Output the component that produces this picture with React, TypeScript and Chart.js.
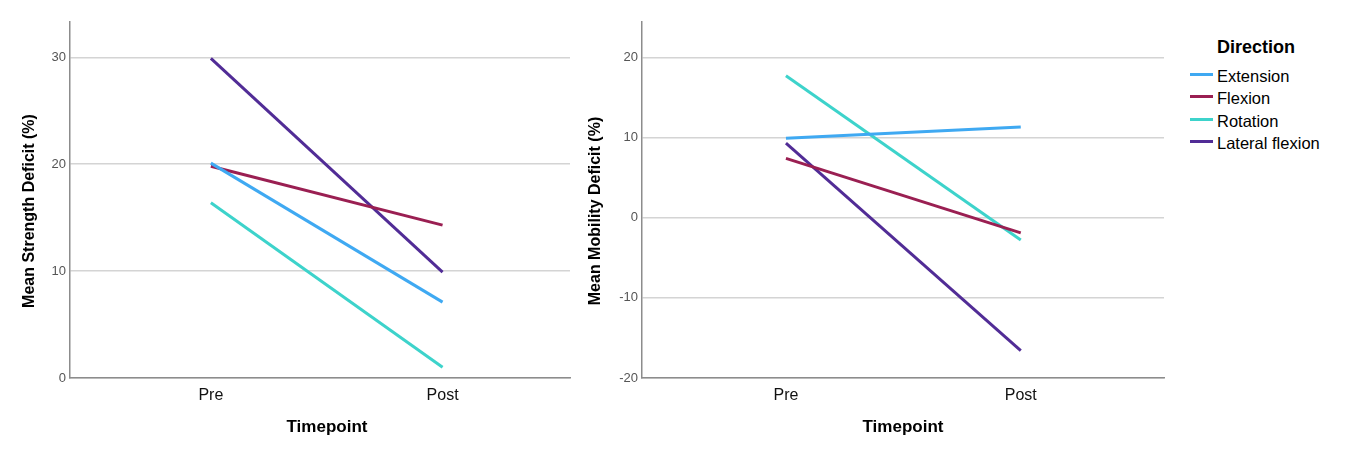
import React, { useEffect, useRef } from "react";
import { Chart, registerables } from "chart.js";

Chart.register(...registerables);

const timepoints = ["Pre", "Post"];
const directions = ["Extension", "Flexion", "Rotation", "Lateral flexion"];
const colors = ["#3FA9F2", "#9A1F52", "#3DD3CB", "#512C96"];

const strengthExtension = [20.1, 7.1];
const strengthFlexion = [19.8, 14.3];
const strengthRotation = [16.4, 1.0];
const strengthLateral = [29.9, 9.9];

const mobilityExtension = [9.9, 11.3];
const mobilityFlexion = [7.4, -1.9];
const mobilityRotation = [17.7, -2.8];
const mobilityLateral = [9.3, -16.6];

const strengthTicks = [0, 10, 20, 30];
const mobilityTicks = [-20, -10, 0, 10, 20];

const FONT = "Arial, 'Liberation Sans', sans-serif";

// Draws the axis titles (real canvas text) with SPSS-like placement
const axisTitlesPlugin = {
  id: "axisTitles",
  afterDraw(chart: any, _args: any, opts: any) {
    const { ctx, chartArea } = chart;
    ctx.save();
    ctx.fillStyle = "#000";
    ctx.textAlign = "center";
    ctx.textBaseline = "middle";
    // x title
    ctx.font = `bold 17px ${FONT}`;
    ctx.fillText(opts.xText, (chartArea.left + chartArea.right) / 2 + opts.xShift, opts.xTitleY);
    // y title
    ctx.translate(opts.yTitleX, (chartArea.top + chartArea.bottom) / 2 + opts.yShift);
    ctx.rotate(-Math.PI / 2);
    ctx.font = `bold 16px ${FONT}`;
    ctx.fillText(opts.yText, 0, 0);
    ctx.restore();
  },
};

function makeDatasets(series: number[][]) {
  return series.map((vals, i) => ({
    label: directions[i],
    data: vals.map((v, j) => ({ x: j, y: v })),
    borderColor: colors[i],
    backgroundColor: colors[i],
    borderWidth: 3,
    pointRadius: 0,
    tension: 0,
  }));
}

function makeOptions(p: {
  xmin: number; xmax: number; ymin: number; ymax: number; yticks: number[];
  yWidth: number; yTitle: string; yTitleX: number; xShift: number; rightPad: number;
}) {
  return {
    responsive: false,
    animation: false,
    layout: { padding: { top: 22, right: p.rightPad, bottom: 0, left: 0 } },
    plugins: {
      legend: { display: false },
      tooltip: { enabled: false },
      axisTitles: {
        xText: "Timepoint",
        xShift: p.xShift,
        xTitleY: 427,
        yText: p.yTitle,
        yTitleX: p.yTitleX,
        yShift: 11,
      },
    },
    scales: {
      x: {
        type: "linear",
        min: p.xmin,
        max: p.xmax,
        afterBuildTicks: (s: any) => { s.ticks = timepoints.map((_, i) => ({ value: i })); },
        afterFit: (s: any) => { s.height = 72; },
        ticks: {
          callback: (v: any) => timepoints[v] ?? "",
          color: "#111",
          font: { family: FONT, size: 16 },
          padding: 8,
          maxRotation: 0,
          autoSkip: false,
        },
        grid: { display: false, drawTicks: false },
        border: { display: true, color: "#8c8c8c", width: 1.5 },
        title: { display: false },
      },
      y: {
        min: p.ymin,
        max: p.ymax,
        afterBuildTicks: (s: any) => { s.ticks = p.yticks.map((v) => ({ value: v })); },
        afterFit: (s: any) => { s.width = p.yWidth; },
        ticks: {
          color: "#555",
          font: { family: FONT, size: 13 },
          padding: 4,
        },
        grid: { color: "#d4d4d4", lineWidth: 1.5, drawTicks: false },
        border: { display: true, color: "#8c8c8c", width: 1.5 },
        title: { display: false },
      },
    },
  } as any;
}

export default function App() {
  const c1 = useRef<HTMLCanvasElement>(null);
  const c2 = useRef<HTMLCanvasElement>(null);

  useEffect(() => {
    const ch1 = new Chart(c1.current!, {
      type: "line",
      data: {
        datasets: makeDatasets([strengthExtension, strengthFlexion, strengthRotation, strengthLateral]),
      },
      options: makeOptions({
        xmin: -0.608, xmax: 1.55, ymin: 0, ymax: 33.3, yticks: strengthTicks,
        yWidth: 70, yTitle: "Mean Strength Deficit (%)", yTitleX: 30, xShift: 7, rightPad: 10,
      }),
      plugins: [axisTitlesPlugin],
    } as any);
    const ch2 = new Chart(c2.current!, {
      type: "line",
      data: {
        datasets: makeDatasets([mobilityExtension, mobilityFlexion, mobilityRotation, mobilityLateral]),
      },
      options: makeOptions({
        xmin: -0.613, xmax: 1.61, ymin: -20, ymax: 24.4, yticks: mobilityTicks,
        yWidth: 62, yTitle: "Mean Mobility Deficit (%)", yTitleX: 16, xShift: 0, rightPad: 11,
      }),
      plugins: [axisTitlesPlugin],
    } as any);
    return () => { ch1.destroy(); ch2.destroy(); };
  }, []);

  return (
    <div style={{ position: "absolute", left: 0, top: 0, width: 1346, height: 450, background: "#fff", fontFamily: FONT }}>
      <canvas ref={c1} width={580} height={450} style={{ position: "absolute", left: 0, top: 0 }} />
      <canvas ref={c2} width={595} height={450} style={{ position: "absolute", left: 580, top: 0 }} />
      <div style={{ position: "absolute", left: 1190, top: 35 }}>
        <div style={{ fontWeight: "bold", fontSize: 18, color: "#000", marginLeft: 27, lineHeight: "24px", marginBottom: 6 }}>Direction</div>
        {directions.map((d, i) => (
          <div key={d} style={{ display: "flex", alignItems: "center", height: 22.3 }}>
            <div style={{ width: 23, height: 3, background: colors[i], marginRight: 4, marginTop: -3 }} />
            <span style={{ fontSize: 16.5, color: "#000", lineHeight: "22px" }}>{d}</span>
          </div>
        ))}
      </div>
    </div>
  );
}
